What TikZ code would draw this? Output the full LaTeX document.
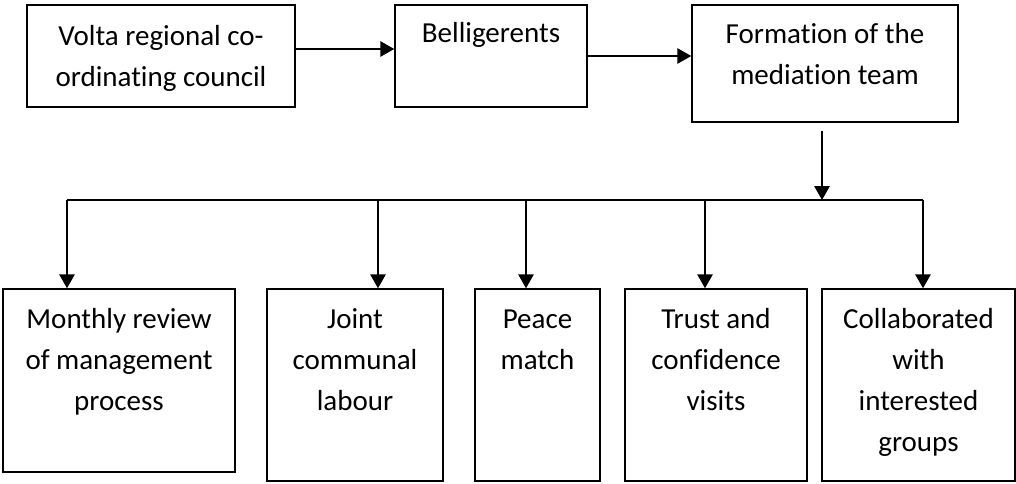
\documentclass[tikz,border=0pt]{standalone}
\usepackage{fontspec}
\setmainfont{Carlito}[Ligatures=NoCommon]
\usetikzlibrary{arrows.meta,calc}
\begin{document}
\begin{tikzpicture}[x=0.75pt,y=-0.75pt,
  panel/.style 2 args={draw,line width=1.1pt,minimum width=#1*0.75pt,minimum height=#2*0.75pt,inner sep=0pt},
  boxtext/.style={anchor=north,inner sep=0pt,align=center,
    font=\fontsize{21.75}{30.75}\selectfont},
  link/.style={line width=1.5pt},
  arr/.style={link,-{Triangle[width=11.5pt,length=10.5pt]}}]
\useasboundingbox (0,0) rectangle (1016,483);

% top row of boxes
\node[panel={268}{102}] (b1) at (161,56) {};
\node[panel={192}{102}] (b2) at (491,56) {};
\node[panel={266}{117}] (b3) at (825,63.5) {};
\node[boxtext] (t1) at (161,16.5) {\strut Volta regional co-\\ordinating council};
\node[boxtext] (t2) at (491,14) {\strut Belligerents};
\node[boxtext] (t3) at (825,14.5) {\strut Formation of the\\mediation team};

% bottom row of boxes
\node[panel={232}{183}] (bA) at (119,380.5) {};
\node[panel={176}{192}] (bB) at (355,385) {};
\node[panel={125}{192}] (bC) at (537.5,385) {};
\node[panel={182}{192}] (bD) at (716,385) {};
\node[panel={193}{192}] (bE) at (918.5,385) {};
\node[boxtext] (tA) at (119,299.3) {\strut Monthly review\\of management\\process};
\node[boxtext] (tB) at (355,299.3) {\strut Joint\\communal\\labour};
\node[boxtext] (tC) at (537.5,299.3) {\strut Peace\\match};
\node[boxtext] (tD) at (716,299.3) {\strut Trust and\\confidence\\visits};
\node[boxtext] (tE) at (918.5,299.3) {\strut Collaborated\\with\\interested\\groups};

% junction points on the distribution line
\coordinate (hub) at (822,200);
\coordinate (jA) at (67,200);
\coordinate (jB) at (378,200);
\coordinate (jC) at (526,200);
\coordinate (jD) at (705,200);
\coordinate (jE) at (923,200);

% connectors along the top row
\draw[arr] ($(b1.east)+(0,-7)$) -- ($(b2.west)+(0,-7)$);
\draw[arr] (b2.east) -- (b2.east -| b3.west);

% from the mediation team down to the distribution line
\draw[arr] ($(b3.south -| hub)+(0,8)$) -- (hub);
\draw[link] (jA) -- (jE);

% branches to the activities
\draw[arr] (jA) -- (jA |- bA.north);
\draw[arr] (jB) -- (jB |- bB.north);
\draw[arr] (jC) -- (jC |- bC.north);
\draw[arr] (jD) -- (jD |- bD.north);
\draw[arr] (jE) -- (jE |- bE.north);
\end{tikzpicture}
\end{document}
